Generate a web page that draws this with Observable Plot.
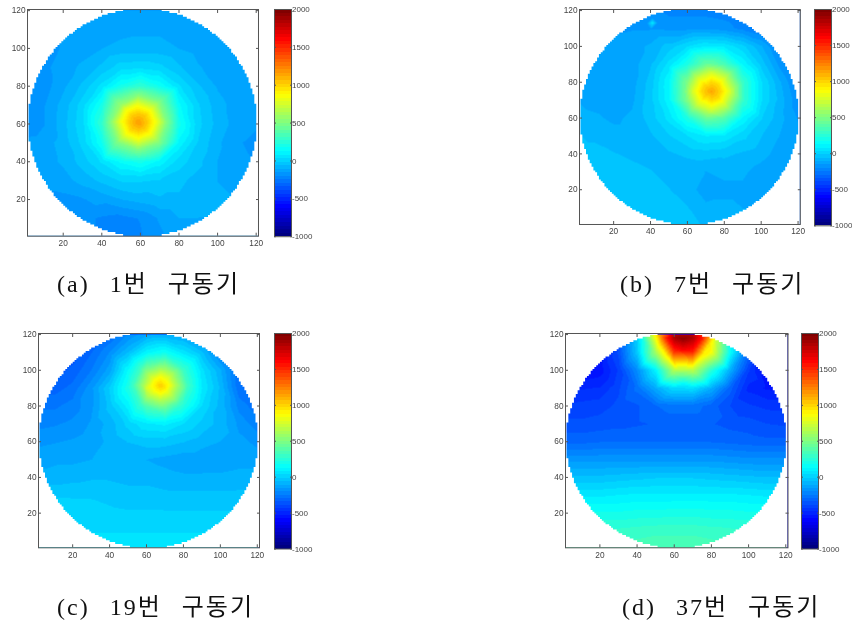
<!DOCTYPE html>
<html lang="ko"><head><meta charset="utf-8">
<script src="https://cdn.jsdelivr.net/npm/d3@7"></script>
<script src="https://cdn.jsdelivr.net/npm/@observablehq/plot@0.6"></script>
<style>
html,body{margin:0;padding:0;background:#fff}
#page{position:relative;width:852px;height:622px;overflow:hidden;filter:blur(0.35px)}
#page svg{position:absolute}
.cap{position:absolute;font:24px/28px "Liberation Serif","Noto Sans CJK KR",serif;letter-spacing:2px;word-spacing:12px;color:#111;white-space:pre}
</style></head><body><div id="page"></div>
<script>
// sample positions of the value grids
const gridX = [0,10,20,30,40,50,60,70,80,90,100,110,120];
const gridY = [120,110,100,90,80,70,60,50,40,30,20,10,0];

// (a) actuator 1
const gridA = [
[-160,-160,-150,-150,-150,-150,-150,-150,-150,-150,-150,-160,-160],
[-170,-170,-150,-140,-130,-130,-120,-120,-130,-140,-150,-160,-160],
[-190,-180,-150,-130,-110,-90,-90,-90,-110,-130,-135,-150,-150],
[-200,-170,-130,-100,-50,10,20,0,-55,-105,-130,-150,-150],
[-200,-180,-120,-50,50,190,270,170,40,-55,-115,-150,-140],
[-200,-160,-90,10,190,570,800,520,140,-10,-90,-130,-140],
[-200,-160,-80,20,270,800,1130,700,190,0,-80,-130,-150],
[-140,-130,-90,0,170,520,700,480,110,-20,-100,-150,-170],
[-140,-130,-100,-40,40,140,190,110,10,-50,-110,-140,-160],
[-140,-140,-130,-90,-50,-10,-10,-20,-50,-80,-110,-130,-130],
[-170,-170,-170,-160,-140,-110,-90,-70,-70,-90,-100,-110,-110],
[-180,-180,-180,-190,-210,-220,-200,-150,-110,-110,-110,-110,-110],
[-180,-180,-190,-200,-210,-220,-210,-170,-120,-110,-110,-110,-110]];
const extraA = [[59,61,1160],[64,61,1010],[54,61,1010],[59,66,1010],[59,56,1010],[63,65,990],[55,65,990],[63,57,990],[55,57,990],
[69,61,790],[49,61,790],[59,71,790],[59,51,790],[66,68,790],[52,68,790],[66,54,790],[52,54,790],
[74,61,480],[44,61,480],[59,76,480],[59,46,480],[70,72,480],[48,72,480],[70,50,480],[48,50,480]];

// (b) actuator 7
const gridB = [
[-220,-220,-220,-220,-220,-220,-220,-220,-230,-250,-280,-300,-300],
[-170,-170,-165,-160,-160,-170,-170,-170,-180,-220,-260,-300,-300],
[-150,-150,-140,-130,-100,-40,30,80,70,0,-100,-230,-300],
[-150,-150,-140,-130,-70,50,210,430,340,120,-30,-170,-280],
[-140,-140,-140,-130,-40,120,500,900,780,290,40,-100,-220],
[-110,-130,-140,-120,-30,110,500,900,790,290,40,-80,-190],
[-90,-100,-120,-100,-40,50,210,430,370,120,-10,-90,-160],
[-60,-70,-90,-90,-70,-20,30,80,70,0,-60,-110,-140],
[-50,-50,-60,-70,-80,-70,-50,-40,-50,-70,-90,-130,-140],
[-40,-40,-40,-50,-60,-80,-100,-110,-100,-100,-130,-150,-150],
[-30,-30,-30,-30,-40,-60,-90,-130,-120,-120,-130,-130,-130],
[-30,-30,-20,-20,-20,-40,-60,-100,-100,-110,-110,-110,-110],
[-30,-30,-20,-20,-20,-30,-40,-70,-90,-100,-110,-110,-110]];
const extraB = [[73,75,1130],[78,75,990],[68,75,990],[73,80,990],[73,70,990],[77,79,960],[69,79,960],[77,71,960],[69,71,960],
[83,75,760],[63,75,760],[73,85,760],[73,65,760],[80,82,760],[66,82,760],[80,68,760],[66,68,760],
[88,75,430],[58,75,430],[73,90,430],[73,60,430],[84,86,430],[62,86,430],[84,64,430],[62,64,430],
[41,113,60],[38,113,-160],[44,113,-160],[41,116,-170],[41,110,-160]];

// (c) actuator 19
const gridC = [
[-400,-400,-400,-380,-300,-200,-120,-100,-130,-220,-350,-400,-400],
[-400,-400,-380,-300,-200,-60,110,170,60,-50,-230,-350,-400],
[-380,-370,-330,-250,-130,130,500,620,300,50,-100,-290,-380],
[-320,-320,-280,-170,-10,210,750,930,430,80,-70,-280,-350],
[-260,-260,-230,-170,-40,100,370,470,230,30,-80,-220,-280],
[-220,-210,-190,-150,-90,0,70,90,30,-30,-80,-170,-230],
[-170,-160,-150,-130,-100,-60,-40,-40,-60,-90,-110,-140,-170],
[-130,-120,-120,-110,-100,-100,-110,-125,-140,-140,-135,-130,-130],
[-90,-90,-80,-70,-70,-80,-80,-90,-100,-100,-100,-90,-90],
[-20,-20,-20,-20,-30,-40,-40,-50,-50,-50,-50,-50,-50],
[10,10,0,0,-5,-10,-10,-10,-10,-10,-10,-10,-10],
[40,40,30,30,30,30,30,30,30,30,30,30,30],
[50,50,40,40,40,40,40,40,40,40,40,40,40]];
const extraC = [[67.5,91.5,1020],[72,91.5,860],[63,91.5,860],[67.5,96,860],[67.5,87,860],[71,95,820],[64,95,820],[71,88,820],[64,88,820],
[77.5,91.5,560],[57.5,91.5,560],[67.5,101.5,560],[67.5,81.5,560],[75,99,540],[60,99,540],[75,84,540],[60,84,540],
[82.5,91.5,300],[52.5,91.5,300],[67.5,106.5,300],[67.5,76.5,300],[78,102,300],[57,102,300],[78,81,300],[57,81,300]];

// (d) actuator 37
const gridD = [
[-700,-700,-650,-450,0,900,1800,1800,1100,200,-350,-600,-700],
[-700,-650,-550,-380,-30,600,1450,1500,850,150,-300,-550,-650],
[-600,-580,-560,-430,-200,100,650,670,250,-100,-430,-600,-620],
[-500,-490,-480,-400,-280,-110,30,40,-100,-320,-500,-540,-560],
[-430,-420,-410,-380,-350,-300,-270,-270,-320,-390,-430,-450,-450],
[-380,-380,-370,-360,-350,-340,-330,-330,-340,-360,-370,-390,-400],
[-310,-310,-300,-300,-300,-300,-300,-300,-300,-310,-320,-330,-330],
[-170,-170,-170,-170,-170,-170,-170,-170,-170,-180,-190,-190,-190],
[-50,-50,-50,-40,-30,-20,-20,-20,-30,-40,-50,-60,-60],
[70,70,70,80,90,90,90,90,90,90,80,70,70],
[180,180,180,180,190,190,200,200,190,190,180,180,180],
[280,280,280,280,290,300,300,300,290,280,280,280,280],
[330,330,330,330,340,350,350,350,340,330,330,330,330]];
const extraD = [[65,118,1950],[60,118,1850],[70,118,1850],[56,118,1550],[75,118,1550],[65,112,1650],[65,107,1200],[65,103,850],[52,115,950],[79,115,950],[56,108,900],[75,108,900],[65,92,90]];

// half width of the disc, row by row from the bottom edge to the centre
const discHalfWidth = [10,14,18,21,23,25,27,29,31,32,34,35,36,38,39,40,41,42,43,44,45,46,46,47,48,49,49,50,50,51,52,52,53,53,54,54,55,55,55,56,56,56,57,57,57,58,58,58,58,58,59,59,59,59,59,59,59,59,59,59];
const discCentreX = 61.3;

const mapTicks = [20,40,60,80,100,120];
const barTicks = [-1000,-500,0,500,1000,1500,2000];
const jetStops = ["#000080","#0000ff","#0080ff","#00ffff","#80ff80","#ffff00","#ff8000","#ff0000","#800000"];
const barDomain = [-1000,2000];
const captions = ["(a) 1번 구동기","(b) 7번 구동기","(c) 19번 구동기","(d) 37번 구동기"];

// layout: axes box, colour bar box, caption corner for each panel
const panels = [
 {grid:gridA,extra:extraA,l:27,r:258,t:9.3,b:236,bl:274,br:291,bt:9.3,bb:236.5,cx:57,cy:270},
 {grid:gridB,extra:extraB,l:578.7,r:799.5,t:9,b:224,bl:814,br:831,bt:8.7,bb:225,cx:620,cy:270},
 {grid:gridC,extra:extraC,l:38,r:259,t:332.7,b:547,bl:274,br:291,bt:332.5,bb:548,cx:57,cy:593},
 {grid:gridD,extra:extraD,l:564.5,r:787,t:332.7,b:547,bl:801,br:818,bt:332.5,bb:548,cx:622,cy:593}
];

const jet = d3.quantize(d3.piecewise(d3.interpolateRgb, jetStops), 64);
const colorScale = {type:"quantize", domain:barDomain, range:jet};
const ink = "#555", lab = "#444", labSize = "8.3px";
const page = document.getElementById("page");

function place(svg,left,top){svg.style.left=left+"px";svg.style.top=top+"px";svg.style.overflow="visible";svg.style.background="none";page.append(svg);}

const rows = [];
rows.push({y:-1,h:0},{y:0.5,h:0});
const fullWidth = discHalfWidth.concat(discHalfWidth.slice().reverse());
fullWidth.forEach((h,i)=>rows.push({y:i+1.5,h}));
rows.push({y:123,h:0});

panels.forEach((p,i)=>{
  const pts = [];
  p.grid.forEach((row,j)=>row.forEach((v,k)=>pts.push({x:gridX[k],y:gridY[j],v})));
  p.extra.forEach(([x,y,v])=>pts.push({x,y,v}));
  const m = {l:30,r:10,t:10,b:20};
  const xDom=[1.5,121.2], yDom=[0.6,120.6];
  const map = Plot.plot({
    width:p.r-p.l+m.l+m.r, height:p.b-p.t+m.t+m.b,
    marginLeft:m.l,marginRight:m.r,marginTop:m.t,marginBottom:m.b,
    x:{domain:xDom,label:null},y:{domain:yDom,label:null},
    color:colorScale,
    style:{fontFamily:"Liberation Sans",fontSize:labSize,color:lab},
    marks:[
      Plot.raster(pts,{x:"x",y:"y",fill:"v",interpolate:"barycentric"}),
      Plot.areaX(rows,{y:"y",x1:()=>xDom[0]-1,x2:d=>discCentreX-d.h,curve:"step-after",fill:"white",clip:"frame"}),
      Plot.areaX(rows,{y:"y",x1:d=>discCentreX+d.h,x2:()=>xDom[1]+1,curve:"step-after",fill:"white",clip:"frame"}),
      Plot.axisX(mapTicks,{anchor:"bottom",tickSize:-3,tickPadding:7,stroke:ink,fill:lab,label:null}),
      Plot.axisX(mapTicks,{anchor:"top",tickSize:-3,tickFormat:()=>"",stroke:ink,label:null}),
      Plot.axisY(mapTicks,{anchor:"left",tickSize:-3,tickPadding:5,stroke:ink,fill:lab,label:null}),
      Plot.axisY(mapTicks,{anchor:"right",tickSize:-3,tickFormat:()=>"",stroke:ink,label:null}),
      Plot.frame({stroke:ink})
    ]
  });
  place(map,p.l-m.l,p.t-m.t);

  const levels = jet.map((c,n)=>({lo:barDomain[0]+n*(barDomain[1]-barDomain[0])/64,hi:barDomain[0]+(n+1)*(barDomain[1]-barDomain[0])/64}));
  const mb = {l:2,r:21,t:10,b:10};
  const bar = Plot.plot({
    width:p.br-p.bl+mb.l+mb.r, height:p.bb-p.bt+mb.t+mb.b,
    marginLeft:mb.l,marginRight:mb.r,marginTop:mb.t,marginBottom:mb.b,
    x:{domain:[0,1],axis:null},y:{domain:barDomain,label:null},
    color:colorScale,
    style:{fontFamily:"Liberation Sans",fontSize:"8px",color:lab},
    marks:[
      Plot.rect(levels,{x1:()=>0,x2:()=>1,y1:"lo",y2:"hi",fill:d=>(d.lo+d.hi)/2,shapeRendering:"crispEdges"}),
      Plot.axisY(barTicks,{anchor:"right",tickSize:0,tickPadding:0.5,fill:lab,label:null,tickFormat:d=>String(d)}),
      Plot.axisY(barTicks,{anchor:"right",tickSize:-2,tickFormat:()=>"",stroke:ink,label:null}),
      Plot.axisY(barTicks,{anchor:"left",tickSize:-2,tickFormat:()=>"",stroke:ink,label:null}),
      Plot.frame({stroke:ink})
    ]
  });
  place(bar,p.bl-mb.l,p.bt-mb.t);

  const cap = document.createElement("div");
  cap.className="cap";cap.textContent=captions[i];
  cap.style.left=p.cx+"px";cap.style.top=p.cy+"px";
  page.append(cap);
});
</script></body></html>
